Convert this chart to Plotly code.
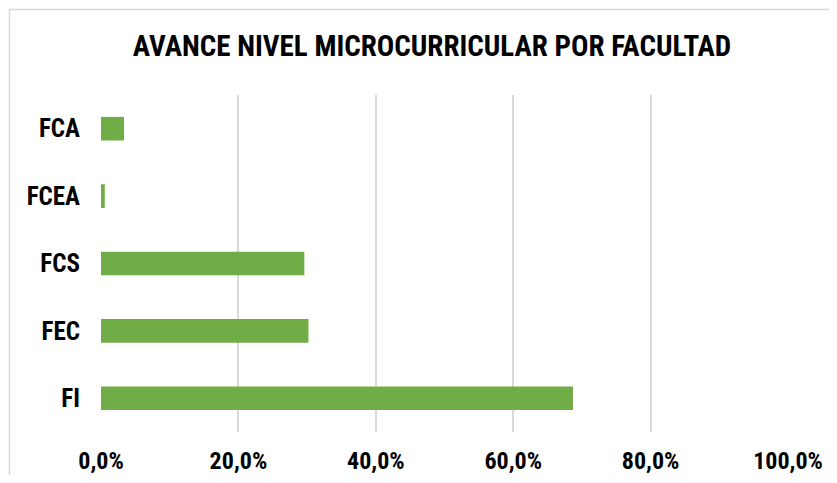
import plotly.graph_objects as go

categories = ["FI", "FEC", "FCS", "FCEA", "FCA"]
values = [0.687, 0.302, 0.296, 0.0055, 0.0335]
tick_vals = [0, 0.2, 0.4, 0.6, 0.8, 1.0]

FONT = "Liberation Sans Narrow, Arial Narrow, Roboto Condensed, Liberation Sans, sans-serif"
OFF = 8  # page body margin
W, H = 837 - 2 * OFF, 483 - 2 * OFF
# plot area in page pixels: x 101..788, y 95..432
L = 101 - OFF
T = 95 - OFF
R = W - (788 - OFF)
B = H - (432 - OFF)
pw, ph = W - L - R, H - T - B

def px_to_paper_x(px):
    return (px - OFF - L) / pw

def px_to_paper_y(py):
    return (H - B - (py - OFF)) / ph

fig = go.Figure()
fig.add_trace(go.Bar(
    x=values, y=categories, orientation="h",
    marker=dict(color="#70AD47", line=dict(width=0)),
    width=0.35,
))

fig.update_layout(
    width=W, height=H,
    margin=dict(l=L, r=R, t=T, b=B, autoexpand=False),
    paper_bgcolor="white", plot_bgcolor="white",
    separators=",.",
    showlegend=False,
    font=dict(family=FONT, color="#000000"),
    title=dict(
        text="<b>AVANCE NIVEL MICROCURRICULAR POR FACULTAD</b>",
        font=dict(family=FONT, size=29, color="#000000"),
        x=px_to_paper_x(432), xref="paper", xanchor="center",
        y=1 - (46 - OFF) / H, yref="container", yanchor="middle",
    ),
    xaxis=dict(
        range=[0, 1], tickvals=tick_vals, tickformat=".1%",
        showgrid=True, gridcolor="#D9D9D9", gridwidth=1.5,
        zeroline=False, showline=False, automargin=False,
        tickfont=dict(family=FONT, size=24, color="#000000", weight="bold"),
        ticklabelstandoff=12,
        fixedrange=True,
    ),
    yaxis=dict(
        categoryorder="array", categoryarray=categories,
        showgrid=False, zeroline=False, showline=False, automargin=False,
        tickfont=dict(family=FONT, size=25, color="#000000", weight="bold"),
        ticklabelstandoff=20,
        fixedrange=True,
    ),
    shapes=[dict(
        type="rect", xref="paper", yref="paper",
        x0=px_to_paper_x(9.5), x1=px_to_paper_x(1200),
        y0=px_to_paper_y(800), y1=px_to_paper_y(9.5),
        line=dict(color="#D9D9D9", width=1.5), fillcolor="rgba(0,0,0,0)",
        layer="below",
    )],
)

fig.write_html("out.html")
